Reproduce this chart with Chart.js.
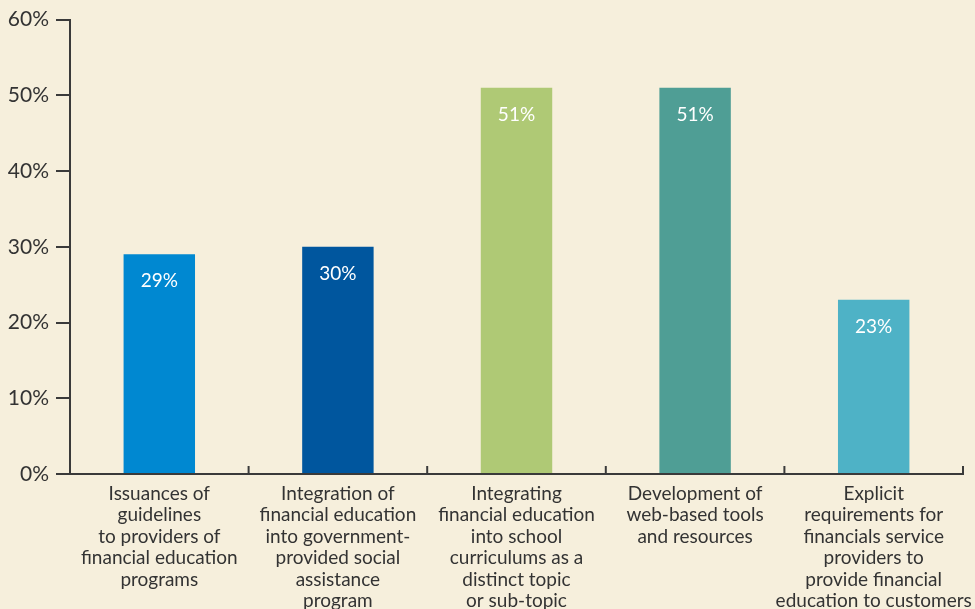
<!DOCTYPE html>
<html>
<head>
<meta charset="utf-8">
<script src="https://cdn.jsdelivr.net/npm/chart.js@4"></script>
<style>
  html, body { margin: 0; padding: 0; background: #f6efdc; }
  #wrap { width: 975px; height: 609px; position: relative; }
</style>
</head>
<body>
<div id="wrap"><canvas id="myChart"></canvas></div>
<script>
const categories = [
    ['Issuances of', 'guidelines', 'to providers of', 'financial education', 'programs'],
    ['Integration of', 'financial education', 'into government-', 'provided social', 'assistance', 'program'],
    ['Integrating', 'financial education', 'into school', 'curriculums as a', 'distinct topic', 'or sub-topic'],
    ['Development of', 'web-based tools', 'and resources'],
    ['Explicit', 'requirements for', 'financials service', 'providers to', 'provide financial', 'education to customers']
];
const values = [29, 30, 51, 51, 23];
const barColors = ['#0088d1', '#00569e', '#afc975', '#4f9e95', '#4eb2c6'];
const yTicks = [0, 10, 20, 30, 40, 50, 60];

const axisColor = '#3a3a3a';

// upward tick marks between categories on the x axis
const xTickMarks = {
    id: 'xTickMarks',
    afterDraw(chart) {
        const ctx = chart.ctx;
        const x = chart.scales.x;
        const bottom = chart.chartArea.bottom;
        const half = (x.getPixelForValue(1) - x.getPixelForValue(0)) / 2;
        ctx.save();
        ctx.strokeStyle = axisColor;
        ctx.lineWidth = 2;
        for (let i = 0; i < categories.length; i++) {
            const px = x.getPixelForValue(i) + half;
            ctx.beginPath();
            ctx.moveTo(px, bottom);
            ctx.lineTo(px, bottom - 8);
            ctx.stroke();
        }
        ctx.restore();
    }
};

// white value labels inside the bars
const valueLabels = {
    id: 'valueLabels',
    afterDatasetsDraw(chart) {
        const ctx = chart.ctx;
        const meta = chart.getDatasetMeta(0);
        ctx.save();
        ctx.fillStyle = '#ffffff';
        ctx.font = '19px Lato';
        ctx.textAlign = 'center';
        ctx.textBaseline = 'middle';
        meta.data.forEach((bar, i) => {
            ctx.fillText(values[i] + '%', bar.x, bar.y + 27);
        });
        ctx.restore();
    }
};

var ctx = document.getElementById('myChart').getContext('2d');
var myChart = new Chart(ctx, {
    type: 'bar',
    data: {
        labels: categories,
        datasets: [{
            data: values,
            backgroundColor: barColors,
            barPercentage: 0.4,
            categoryPercentage: 1.0
        }]
    },
    options: {
        responsive: true,
        maintainAspectRatio: false,
        animation: false,
        layout: { padding: { top: 18, right: 12, left: 0, bottom: 0 } },
        plugins: {
            legend: { display: false },
            tooltip: { enabled: false }
        },
        scales: {
            x: {
                grid: { display: false },
                border: { display: true, color: axisColor, width: 2 },
                ticks: {
                    color: '#333333',
                    font: { family: 'Lato', size: 19, lineHeight: 1.13 },
                    padding: 1,
                    maxRotation: 0,
                    autoSkip: false
                },
                afterFit(scale) { scale.height = 135; }
            },
            y: {
                min: 0,
                max: 60,
                afterBuildTicks(scale) {
                    scale.ticks = yTicks.map(v => ({ value: v }));
                },
                grid: {
                    drawOnChartArea: false,
                    drawTicks: true,
                    tickLength: 14,
                    color: axisColor,
                    lineWidth: 2
                },
                border: { display: true, color: axisColor, width: 2 },
                ticks: {
                    color: '#333333',
                    font: { family: 'Lato', size: 21 },
                    padding: 7,
                    callback: v => v + '%'
                },
                afterFit(scale) { scale.width = 70; }
            }
        }
    },
    plugins: [xTickMarks, valueLabels]
});
</script>
</body>
</html>
